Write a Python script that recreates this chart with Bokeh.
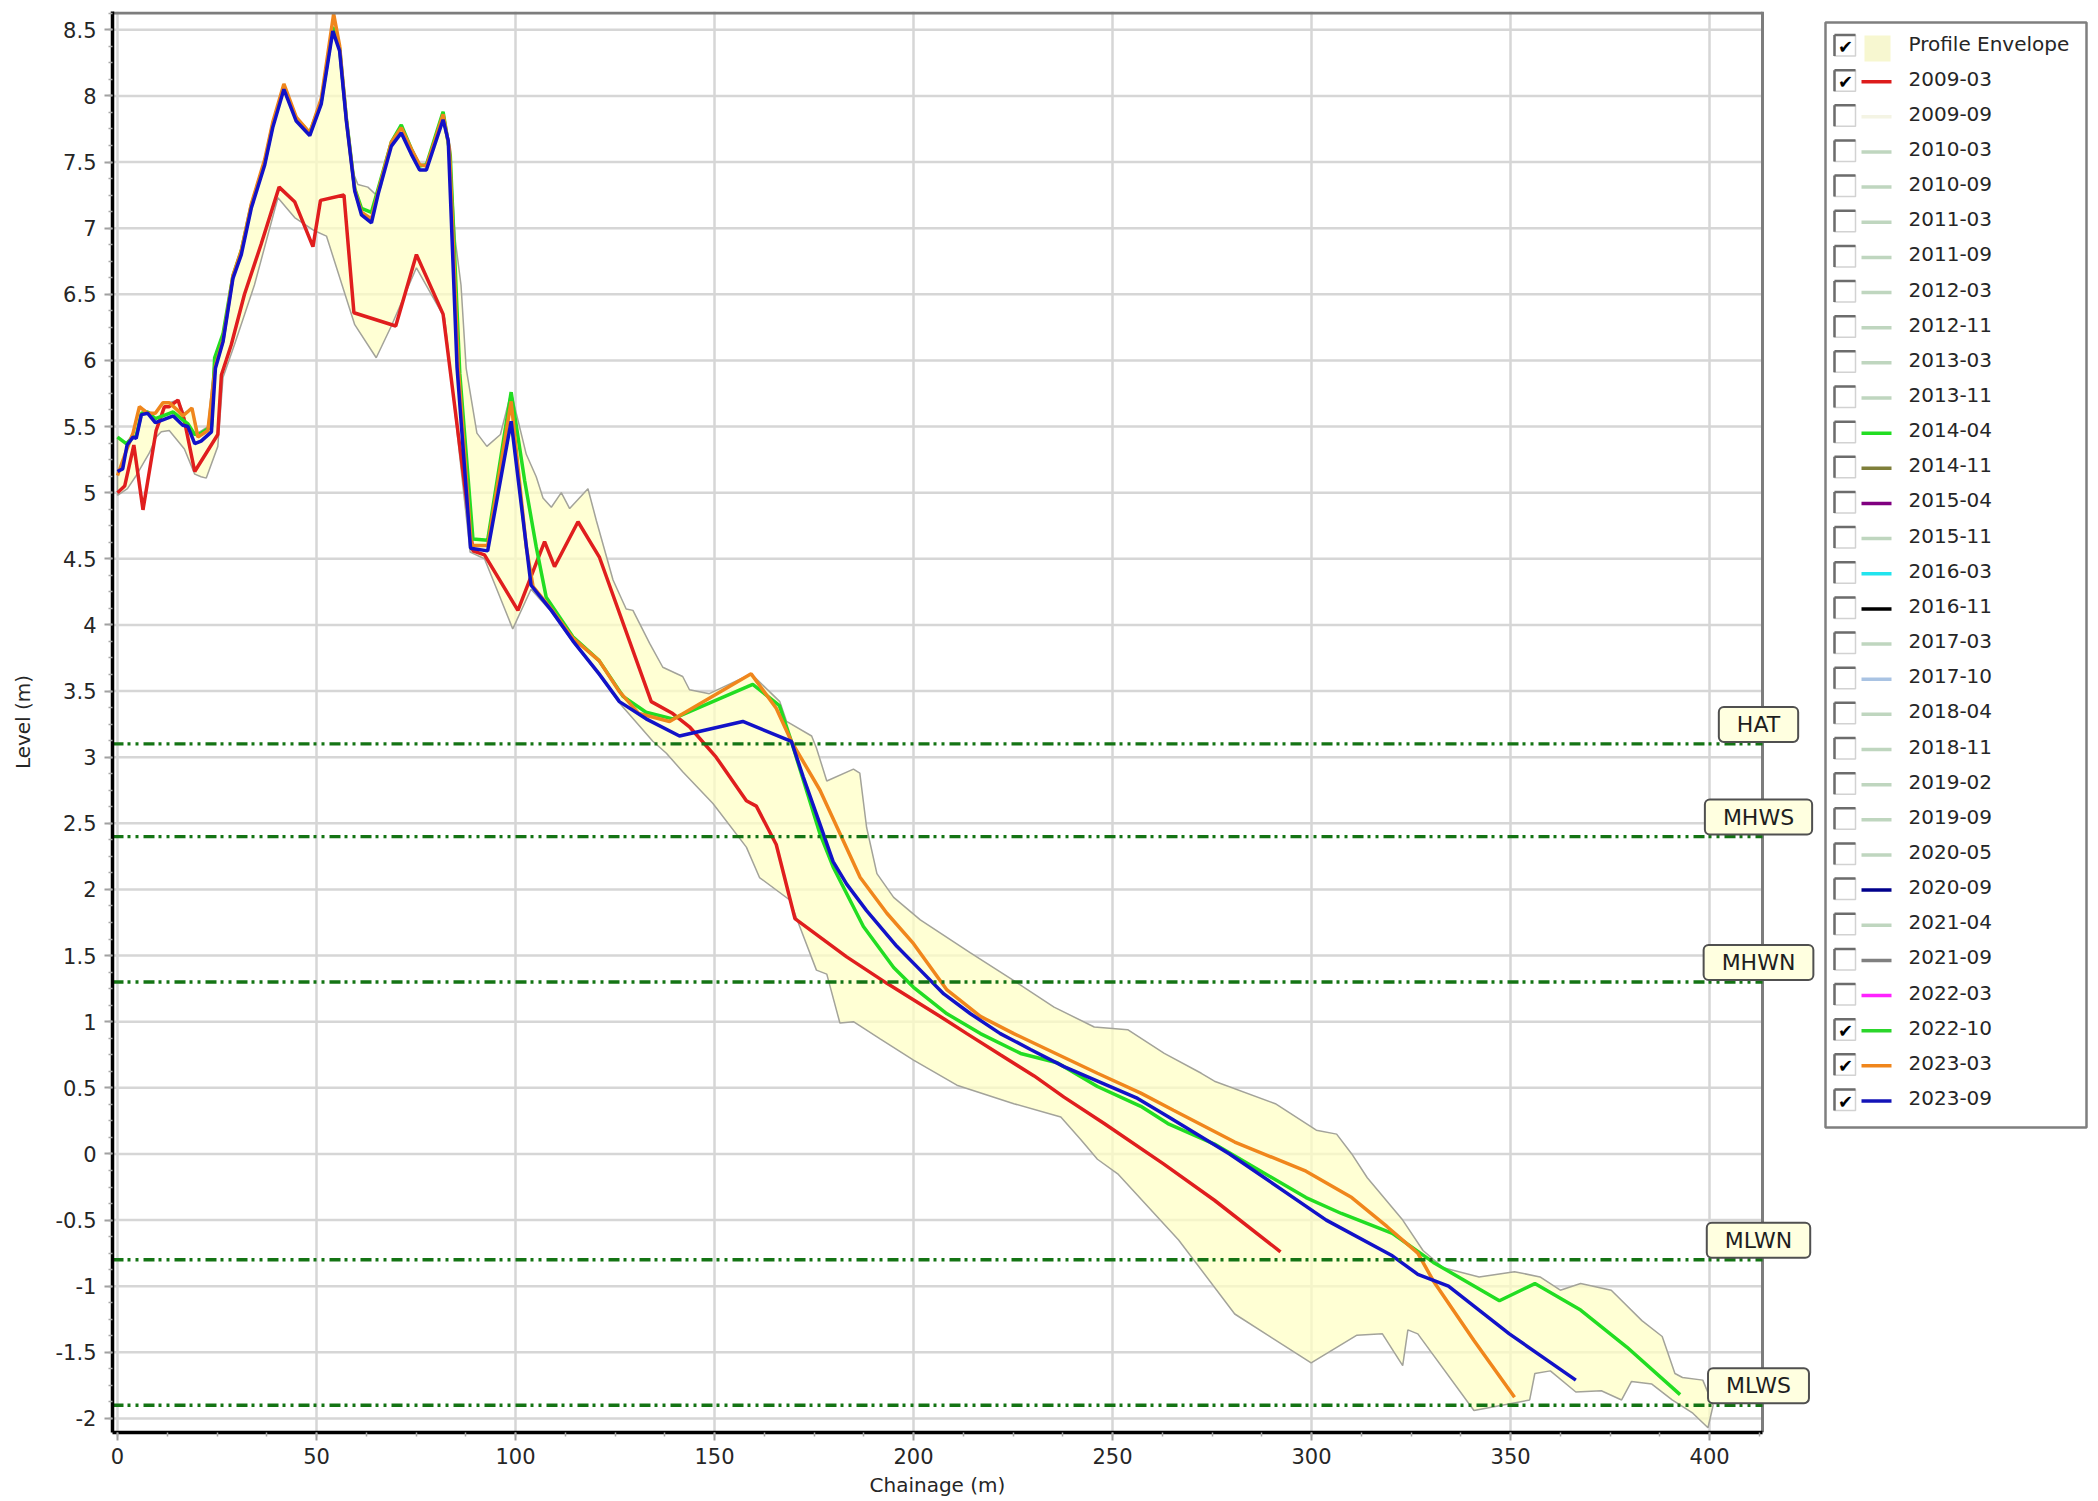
import numpy as np
from bokeh.plotting import figure
from bokeh.models import Range1d, FixedTicker, Label, Title
from bokeh.layouts import row
from bokeh.embed import file_html
from bokeh.resources import INLINE
from bokeh.core.properties import value

# ---------------- data (chainage m, level m) ----------------
profile_2009_03 = [
    (0.0, 5.00), (1.8, 5.05), (4.1, 5.36), (6.4, 4.87), (9.7, 5.47), (11.8, 5.65), (13.0, 5.65),
    (15.2, 5.70), (16.7, 5.56), (19.4, 5.16), (22.3, 5.30), (25.2, 5.44), (26.1, 5.89), (28.6, 6.12),
    (31.9, 6.50), (36.1, 6.88), (40.6, 7.31), (44.5, 7.20), (49.1, 6.86), (51.0, 7.21), (56.9, 7.25),
    (59.4, 6.36), (69.9, 6.26), (75.1, 6.80), (81.8, 6.35), (89.3, 4.56), (92.2, 4.53), (100.6, 4.11),
    (107.3, 4.63), (109.8, 4.44), (115.7, 4.78), (121.1, 4.51), (134.1, 3.42), (139.5, 3.33),
    (143.7, 3.23), (150.4, 3.00), (158.0, 2.67), (160.5, 2.63), (165.5, 2.34), (170.2, 1.78),
    (183.2, 1.49), (193.3, 1.29), (206.7, 1.04), (213.4, 0.91), (221.8, 0.75), (230.3, 0.59),
    (237.8, 0.43), (247.9, 0.23), (262.8, -0.075), (275.6, -0.35), (292.2, -0.74),
]
profile_2022_10 = [
    (0.0, 5.42), (2.2, 5.37), (3.9, 5.42), (4.7, 5.43), (6.0, 5.60), (7.6, 5.61), (9.5, 5.56),
    (11.4, 5.58), (14.0, 5.61), (16.4, 5.55), (17.7, 5.52), (19.4, 5.44), (21.0, 5.45), (23.6, 5.50),
    (24.4, 6.02), (26.5, 6.20), (29.0, 6.64), (31.1, 6.83), (33.6, 7.17), (37.0, 7.50), (39.0, 7.78),
    (41.8, 8.07), (44.9, 7.83), (48.3, 7.72), (51.2, 7.96), (54.1, 8.52), (55.8, 8.36), (57.5, 7.83),
    (59.6, 7.30), (61.3, 7.15), (63.8, 7.12), (65.5, 7.30), (68.8, 7.65), (71.3, 7.78), (73.8, 7.60),
    (75.9, 7.47), (77.6, 7.48), (79.7, 7.68), (81.8, 7.88), (83.6, 7.55), (86.0, 5.90), (89.3, 4.65),
    (93.0, 4.64), (98.9, 5.76), (102.3, 5.09), (105.2, 4.59), (107.7, 4.21), (114.4, 3.91),
    (121.0, 3.73), (127.0, 3.46), (132.8, 3.34), (139.5, 3.29), (159.6, 3.55), (166.3, 3.39),
    (169.3, 3.12), (173.1, 2.75), (176.5, 2.42), (179.8, 2.17), (187.4, 1.72), (195.0, 1.41),
    (200.0, 1.26), (208.4, 1.06), (216.8, 0.91), (226.9, 0.76), (236.1, 0.69), (246.2, 0.51),
    (257.1, 0.36), (263.9, 0.23), (275.6, 0.075), (298.6, -0.33), (307.5, -0.45), (320.3, -0.60),
    (330.6, -0.82), (347.2, -1.11), (356.1, -0.98), (367.6, -1.18), (379.2, -1.46), (392.6, -1.82),
]
profile_2023_03 = [
    (0.0, 5.13), (2.0, 5.30), (3.9, 5.45), (5.5, 5.65), (7.6, 5.60), (9.5, 5.60), (11.4, 5.68),
    (13.0, 5.68), (15.2, 5.62), (16.4, 5.58), (18.7, 5.64), (20.2, 5.42), (22.7, 5.47), (24.6, 5.96),
    (26.5, 6.15), (29.0, 6.64), (31.1, 6.83), (33.6, 7.18), (37.0, 7.52), (39.0, 7.80), (41.8, 8.09),
    (44.9, 7.84), (48.3, 7.72), (51.2, 7.98), (54.3, 8.62), (55.8, 8.38), (57.5, 7.82), (59.6, 7.29),
    (61.3, 7.12), (63.8, 7.07), (65.5, 7.28), (68.8, 7.65), (71.3, 7.76), (73.8, 7.60), (75.9, 7.48),
    (77.6, 7.47), (79.7, 7.66), (81.8, 7.86), (83.4, 7.60), (85.6, 5.95), (88.9, 4.60), (93.0, 4.60),
    (98.9, 5.69), (102.7, 4.59), (104.4, 4.29), (109.0, 4.12), (114.4, 3.90), (121.0, 3.73),
    (126.0, 3.50), (131.0, 3.33), (138.7, 3.27), (159.2, 3.63), (165.5, 3.37), (169.3, 3.12),
    (176.5, 2.75), (186.6, 2.09), (193.3, 1.82), (200.0, 1.59), (208.4, 1.24), (216.8, 1.04),
    (225.2, 0.91), (233.6, 0.79), (246.2, 0.61), (257.1, 0.46), (265.3, 0.33), (280.7, 0.09),
    (298.6, -0.13), (310.1, -0.33), (319.0, -0.55), (326.7, -0.75), (330.6, -0.96), (340.8, -1.41),
    (351.0, -1.84),
]
profile_2023_09 = [
    (0.0, 5.16), (1.3, 5.18), (2.4, 5.36), (3.9, 5.42), (4.7, 5.41), (6.0, 5.59), (7.6, 5.60),
    (9.5, 5.53), (11.4, 5.55), (14.0, 5.58), (16.4, 5.51), (17.7, 5.50), (19.4, 5.37), (21.0, 5.39),
    (23.6, 5.46), (24.6, 5.94), (26.5, 6.14), (29.0, 6.62), (31.1, 6.80), (33.6, 7.15), (37.0, 7.48),
    (39.0, 7.76), (41.8, 8.05), (44.9, 7.81), (48.3, 7.70), (51.2, 7.94), (54.1, 8.49), (55.8, 8.34),
    (57.5, 7.81), (59.6, 7.28), (61.3, 7.10), (63.8, 7.04), (65.5, 7.26), (68.8, 7.62), (71.3, 7.72),
    (73.8, 7.56), (75.9, 7.44), (77.6, 7.44), (79.7, 7.63), (81.8, 7.82), (83.1, 7.66), (85.3, 5.95),
    (88.7, 4.58), (93.0, 4.56), (98.9, 5.54), (103.9, 4.30), (109.0, 4.11), (114.4, 3.88),
    (121.0, 3.63), (126.1, 3.42), (132.8, 3.29), (141.2, 3.16), (157.1, 3.27), (169.3, 3.12),
    (172.3, 2.85), (175.6, 2.57), (179.8, 2.21), (183.2, 2.04), (188.2, 1.84), (195.8, 1.57),
    (201.7, 1.39), (207.6, 1.21), (214.3, 1.06), (221.8, 0.91), (229.4, 0.79), (237.8, 0.66),
    (247.1, 0.54), (256.3, 0.42), (264.1, 0.28), (279.4, 0.00), (303.7, -0.50), (320.3, -0.77),
    (326.7, -0.91), (334.4, -1.00), (349.7, -1.36), (366.4, -1.71),
]
envelope_upper = [
    (0.0, 5.42), (2.2, 5.37), (3.9, 5.45), (5.5, 5.65), (7.6, 5.61), (9.5, 5.60), (11.4, 5.68),
    (13.0, 5.68), (15.2, 5.70), (16.7, 5.60), (18.7, 5.64), (20.2, 5.45), (22.7, 5.50), (24.4, 6.02),
    (26.5, 6.20), (29.0, 6.64), (31.1, 6.83), (33.6, 7.18), (37.0, 7.52), (39.0, 7.80), (41.8, 8.09),
    (44.9, 7.84), (48.3, 7.72), (51.2, 7.98), (54.3, 8.62), (55.8, 8.38), (57.5, 7.83), (58.8, 7.45),
    (60.4, 7.33), (62.9, 7.31), (65.0, 7.25), (66.2, 7.31), (68.8, 7.65), (71.3, 7.78), (73.8, 7.60),
    (75.9, 7.48), (77.6, 7.48), (79.7, 7.68), (81.8, 7.88), (83.6, 7.55), (84.9, 6.90), (86.3, 6.57),
    (87.6, 5.94), (90.3, 5.45), (92.8, 5.35), (96.2, 5.44), (98.9, 5.76), (102.7, 5.29), (105.2, 5.12),
    (106.9, 4.96), (109.0, 4.89), (111.5, 5.00), (113.6, 4.88), (118.2, 5.03), (120.3, 4.79),
    (124.5, 4.34), (127.8, 4.12), (129.5, 4.11), (133.7, 3.86), (137.0, 3.68), (142.0, 3.61),
    (143.7, 3.51), (148.7, 3.48), (159.2, 3.63), (166.4, 3.42), (168.1, 3.27), (174.4, 3.16),
    (175.6, 3.07), (178.2, 2.82), (184.9, 2.91), (186.5, 2.88), (188.2, 2.47), (190.8, 2.12),
    (195.0, 1.94), (201.7, 1.77), (214.3, 1.52), (225.2, 1.31), (235.3, 1.11), (245.4, 0.96),
    (253.8, 0.94), (263.0, 0.76), (272.3, 0.61), (275.6, 0.55), (290.9, 0.38), (301.2, 0.18),
    (306.3, 0.15), (310.1, 0.00), (314.0, -0.18), (322.9, -0.50), (328.0, -0.73), (333.1, -0.86),
    (342.1, -0.93), (351.0, -0.89), (357.4, -0.93), (362.5, -1.03), (367.6, -0.98), (375.3, -1.03),
    (383.0, -1.26), (388.1, -1.38), (391.3, -1.66), (393.2, -1.69), (398.3, -1.71), (400.9, -1.90),
    (399.6, -2.07),
]
envelope_lower = [
    (0.0, 4.98), (2.5, 5.03), (4.5, 5.12), (8.0, 5.30), (9.7, 5.42), (11.0, 5.46), (13.0, 5.47),
    (16.8, 5.33), (19.4, 5.14), (21.0, 5.12), (22.3, 5.11), (25.2, 5.35), (26.5, 5.87), (29.4, 6.12),
    (34.4, 6.57), (40.3, 7.23), (44.5, 7.08), (49.5, 6.98), (52.5, 6.94), (59.6, 6.27), (65.0, 6.02),
    (68.8, 6.26), (75.1, 6.70), (82.2, 6.32), (88.6, 4.55), (92.2, 4.50), (99.3, 3.97), (103.9, 4.27),
    (109.0, 4.10), (114.4, 3.87), (121.0, 3.62), (126.1, 3.41), (134.5, 3.12), (137.9, 3.03),
    (142.0, 2.89), (149.6, 2.65), (158.0, 2.32), (161.3, 2.09), (168.9, 1.92), (171.4, 1.72),
    (175.6, 1.39), (178.2, 1.36), (181.5, 0.99), (184.9, 1.00), (191.6, 0.87), (200.0, 0.71),
    (210.9, 0.52), (225.2, 0.38), (237.0, 0.28), (242.0, 0.11), (246.2, -0.04), (251.3, -0.15),
    (266.6, -0.65), (280.7, -1.21), (299.9, -1.58), (311.4, -1.37), (317.8, -1.36), (322.9, -1.60),
    (324.2, -1.33), (326.7, -1.36), (340.8, -1.94), (354.8, -1.86), (356.1, -1.66), (360.0, -1.64),
    (366.4, -1.80), (372.8, -1.79), (377.9, -1.86), (380.4, -1.72), (385.5, -1.74), (390.6, -1.86),
    (395.8, -1.96), (399.6, -2.07),
]

tide_names = ["HAT", "MHWS", "MHWN", "MLWN", "MLWS"]
tide_levels = [3.1, 2.4, 1.3, -0.8, -1.9]

x_ticks = [0, 50, 100, 150, 200, 250, 300, 350, 400]
x_tick_labels = ["0", "50", "100", "150", "200", "250", "300", "350", "400"]
y_ticks = [-2.0, -1.5, -1.0, -0.5, 0.0, 0.5, 1.0, 1.5, 2.0, 2.5, 3.0, 3.5, 4.0, 4.5,
           5.0, 5.5, 6.0, 6.5, 7.0, 7.5, 8.0, 8.5]
y_tick_labels = ["-2", "-1.5", "-1", "-0.5", "0", "0.5", "1", "1.5", "2", "2.5", "3", "3.5",
                 "4", "4.5", "5", "5.5", "6", "6.5", "7", "7.5", "8", "8.5"]

legend_names = ["Profile Envelope", "2009-03", "2009-09", "2010-03", "2010-09", "2011-03",
                "2011-09", "2012-03", "2012-11", "2013-03", "2013-11", "2014-04", "2014-11",
                "2015-04", "2015-11", "2016-03", "2016-11", "2017-03", "2017-10", "2018-04",
                "2018-11", "2019-02", "2019-09", "2020-05", "2020-09", "2021-04", "2021-09",
                "2022-03", "2022-10", "2023-03", "2023-09"]
legend_checked = [True, True] + [False] * 26 + [True, True, True]
PALE = "#bfd6bf"
legend_colors = [None, "#dd1c1c", "#f4f4e4", PALE, PALE, PALE, PALE, PALE, PALE, PALE, PALE,
                 "#22dd22", "#7f7f3a", "#800080", PALE, "#22e4ee", "#000000", PALE, "#a9c3e3",
                 PALE, PALE, PALE, PALE, PALE, "#00008c", PALE, "#808080", "#ff22ff",
                 "#2bd62b", "#f0861c", "#1414b8"]

plotted = [("2009-03", profile_2009_03, "#e01e1e"),
           ("2022-10", profile_2022_10, "#22dd22"),
           ("2023-03", profile_2023_03, "#f0861c"),
           ("2023-09", profile_2023_09, "#1212c8")]


def unzip(pairs):
    return [a for a, _ in pairs], [b for _, b in pairs]


FONT = "DejaVu Sans"
TXT = "#262626"

# page geometry (pixels)
FIG_H = 1500
FRAME_TOP, FRAME_BOTTOM = 11, 1432
FRAME_LEFT, AXIS_RIGHT, FRAME_RIGHT = 112, 1762, 1818
MAIN_W = 1822
LEG_W = 274

X_MIN, X_EDGE = -1.26, 413.3
Y_MIN, Y_MAX = -2.106, 8.638
m_per_px = (X_EDGE - X_MIN) / (AXIS_RIGHT - FRAME_LEFT)
y_per_px = (Y_MAX - Y_MIN) / (FRAME_BOTTOM - FRAME_TOP)
X_FULL = X_EDGE + (FRAME_RIGHT - AXIS_RIGHT) * m_per_px

# ---------------- main chart ----------------
p = figure(width=MAIN_W, height=FIG_H, title=None,
           x_range=Range1d(X_MIN, X_FULL), y_range=Range1d(Y_MIN, Y_MAX),
           output_backend="svg", toolbar_location=None,
           min_border_left=FRAME_LEFT, min_border_right=MAIN_W - FRAME_RIGHT,
           min_border_top=FRAME_TOP, min_border_bottom=FIG_H - FRAME_BOTTOM)
p.background_fill_color = "white"
p.border_fill_color = "white"
p.outline_line_color = None

p.xaxis.ticker = FixedTicker(ticks=x_ticks, minor_ticks=[float(v) for v in np.arange(0, 413, 12.5)])
p.yaxis.ticker = FixedTicker(ticks=y_ticks, minor_ticks=[float(v) for v in np.arange(-2.0, 8.64, 0.125)])
p.xaxis.major_label_overrides = {float(t): s for t, s in zip(x_ticks, x_tick_labels)}
p.yaxis.major_label_overrides = {float(t): s for t, s in zip(y_ticks, y_tick_labels)}
p.xaxis.bounds = (X_MIN, X_EDGE)

for ax in (p.xaxis, p.yaxis):
    ax.axis_line_color = "black"
    ax.axis_line_width = 3.5
    ax.major_tick_line_color = "#a0a0a0"
    ax.major_tick_line_width = 2
    ax.minor_tick_line_color = "#a8a8a8"
    ax.minor_tick_line_width = 1.5
    ax.major_tick_in = 0
    ax.minor_tick_in = 0
    ax.minor_tick_out = 4
    ax.major_tick_out = 8
    ax.major_label_standoff = 8
    ax.major_label_text_font = FONT
    ax.major_label_text_font_size = "21px"
    ax.major_label_text_color = TXT
    ax.axis_label_text_font = FONT
    ax.axis_label_text_font_size = "20px"
    ax.axis_label_text_font_style = "normal"
    ax.axis_label_text_color = TXT

p.yaxis.axis_label_standoff = 18
p.xaxis.major_label_standoff = 7
p.yaxis.axis_label = "Level (m)"

# x-axis title, centred under the plotted area (not under the label strip on the right)
x_title = "Chainage (m)"
title_w = 136
title_center_px = (FRAME_LEFT + AXIS_RIGHT) / 2
p.add_layout(Title(text=x_title, align="left", offset=title_center_px - FRAME_LEFT - title_w / 2,
                   standoff=8, text_font=FONT, text_font_size="20px",
                   text_font_style="normal", text_color=TXT), "below")

GRID = "#d6d6d6"
p.xgrid.grid_line_color = GRID
p.xgrid.grid_line_width = 2.5
p.ygrid.visible = False
# horizontal grid lines stop at the plot's right border
p.segment(x0=[X_MIN] * len(y_ticks), x1=[X_EDGE] * len(y_ticks), y0=y_ticks, y1=y_ticks,
          line_color=GRID, line_width=2.5, level="underlay")

# envelope
ux, uy = unzip(envelope_upper)
lx, ly = unzip(envelope_lower)
p.patch(ux + lx[::-1], uy + ly[::-1], fill_color="#ffffc4", fill_alpha=0.72,
        line_color="#a3a39a", line_width=1.5)

# survey lines
for name, pts, col in plotted:
    xs, ys = unzip(pts)
    p.line(xs, ys, line_color=col, line_width=3.5)

# frame border (top and right)
top_y = Y_MAX - 1.5 * y_per_px
p.segment(x0=[X_MIN], y0=[top_y], x1=[X_EDGE], y1=[top_y], line_color="#7d7d7d", line_width=3)
p.segment(x0=[X_EDGE], y0=[Y_MIN], x1=[X_EDGE], y1=[Y_MAX], line_color="#7d7d7d", line_width=3)

# tide levels
p.segment(x0=[X_MIN] * len(tide_levels), x1=[X_EDGE] * len(tide_levels), y0=tide_levels,
          y1=tide_levels, line_color="#147414", line_width=3.3, line_dash="11 4 3 5 3 5")

PAD = (18, 5)
for name, lev in zip(tide_names, tide_levels):
    p.add_layout(Label(x=X_EDGE, y=lev, x_offset=-1, y_offset=-1, text=name,
                       text_font=FONT, text_font_size="22px", text_alpha=0.0,
                       text_align="center", text_baseline="bottom",
                       background_fill_color="#8c8c8c", background_fill_alpha=0.45,
                       padding=PAD, border_radius=5))
    p.add_layout(Label(x=X_EDGE, y=lev, x_offset=-4, y_offset=2, text=name,
                       text_font=FONT, text_font_size="22px", text_color="#1e1e1e",
                       text_align="center", text_baseline="bottom",
                       background_fill_color="#ffffe0", border_line_color="#505050",
                       border_line_width=2, padding=PAD, border_radius=5))

# ---------------- legend panel (coordinates = page pixels) ----------------
lg = figure(width=LEG_W, height=FIG_H, title=None,
            x_range=Range1d(MAIN_W, MAIN_W + LEG_W), y_range=Range1d(FRAME_BOTTOM, FRAME_TOP),
            x_axis_type=None, y_axis_type=None, output_backend="svg", toolbar_location=None,
            min_border_left=0, min_border_right=0,
            min_border_top=FRAME_TOP, min_border_bottom=FIG_H - FRAME_BOTTOM)
lg.outline_line_color = None
lg.background_fill_color = "white"
lg.border_fill_color = "white"

BOX_L, BOX_R, BOX_T, BOX_B = 1825, 2086, 22, 1127
row_y = [45 + 35.15 * i for i in range(len(legend_names))]
n = len(row_y)
lg.quad(left=[BOX_L], right=[BOX_R], top=[BOX_T], bottom=[BOX_B], fill_color="white",
        line_color="#7f7f7f", line_width=2.5)

CB_X = BOX_L + 19.5
lg.rect(x=[CB_X] * n, y=row_y, width=21, height=21, fill_color="white",
        line_color="#d2d2d2", line_width=1.5)
lg.segment(x0=[CB_X - 10.5] * n, y0=[y - 10.5 for y in row_y], x1=[CB_X + 10.5] * n,
           y1=[y - 10.5 for y in row_y], line_color="#6c6c6c", line_width=2.5)
lg.segment(x0=[CB_X - 10.5] * n, y0=[y - 10.5 for y in row_y], x1=[CB_X - 10.5] * n,
           y1=[y + 10.5 for y in row_y], line_color="#6c6c6c", line_width=2.5)

cy = [y + 1 for y, c in zip(row_y, legend_checked) if c]
lg.text(x=[CB_X + 0.5] * len(cy), y=cy, text=["\u2714"] * len(cy), text_font=value(FONT),
        text_font_size="18px", text_align="center", text_baseline="middle", text_color="black")

SW_L, SW_R = BOX_L + 36, BOX_L + 66
lg.quad(left=[SW_L + 3], right=[SW_R - 1], top=[row_y[0] - 10], bottom=[row_y[0] + 16],
        fill_color="#f7f7d0", line_color=None)
sy = [y + 1 for y in row_y[1:]]
lg.segment(x0=[SW_L] * len(sy), y0=sy, x1=[SW_R] * len(sy), y1=sy,
           line_color=legend_colors[1:], line_width=3.5)

lg.text(x=[BOX_L + 83] * n, y=[y - 2 for y in row_y], text=legend_names, text_font=value(FONT),
        text_font_size="20px", text_align="left", text_baseline="middle", text_color=TXT)

layout = row(p, lg)
open("out.html", "w").write(file_html(layout, INLINE))
